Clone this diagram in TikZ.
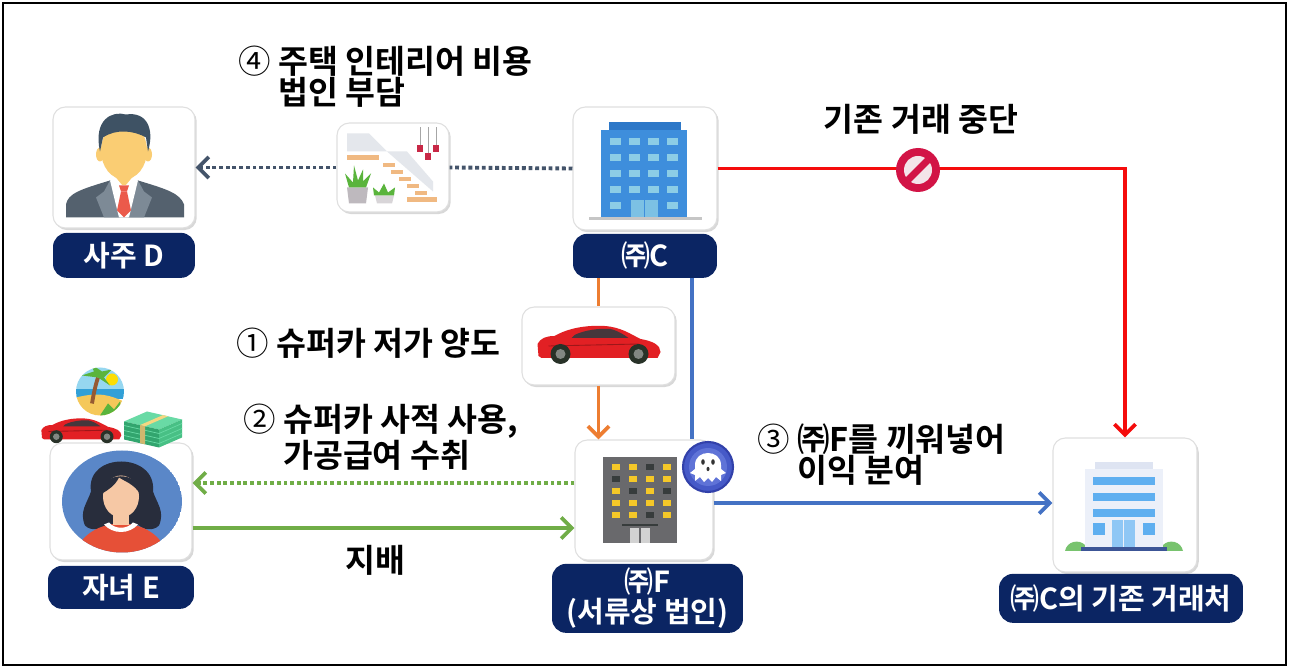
\documentclass[tikz,border=0pt]{standalone}
\usepackage{fontspec}
\newfontfamily\krfont{Noto Sans CJK KR}[BoldFont={Noto Sans CJK KR Bold}]
\usepackage{tikz}
\usetikzlibrary{positioning, arrows.meta, shadows}

\definecolor{navy}{RGB}{11,37,99}
\definecolor{edgered}{RGB}{245,12,12}
\definecolor{edgeorange}{RGB}{237,125,49}
\definecolor{edgeblue}{RGB}{68,114,196}
\definecolor{edgegreen}{RGB}{112,173,71}
\definecolor{edgeslate}{RGB}{68,84,106}
\definecolor{suitgray}{RGB}{84,97,110}
\definecolor{suitlight}{RGB}{125,138,150}
\definecolor{skin}{RGB}{250,205,115}
\definecolor{hairslate}{RGB}{62,82,100}
\definecolor{tiered}{RGB}{235,90,75}
\definecolor{stepwood}{RGB}{240,185,130}
\definecolor{potgray}{RGB}{190,185,190}
\definecolor{leafgreen}{RGB}{90,180,60}
\definecolor{lampred}{RGB}{200,40,70}
\definecolor{glassgray}{RGB}{228,231,236}
\definecolor{cblue}{RGB}{62,142,220}
\definecolor{cbluedark}{RGB}{45,120,200}
\definecolor{cwindow}{RGB}{140,205,230}
\definecolor{carred}{RGB}{226,32,36}
\definecolor{carglass}{RGB}{70,55,60}
\definecolor{tyre}{RGB}{40,50,40}
\definecolor{rim}{RGB}{130,135,130}
\definecolor{circleblue}{RGB}{90,135,200}
\definecolor{hairdark}{RGB}{40,45,60}
\definecolor{faceskin}{RGB}{246,200,165}
\definecolor{shirtred}{RGB}{230,80,55}
\definecolor{beachsky}{RGB}{150,215,240}
\definecolor{beachsea}{RGB}{50,160,215}
\definecolor{beachsand}{RGB}{245,200,90}
\definecolor{trunkbrown}{RGB}{150,90,50}
\definecolor{cashlight}{RGB}{105,218,165}
\definecolor{cashmid}{RGB}{72,192,133}
\definecolor{cashdark}{RGB}{50,165,110}
\definecolor{bandyellow}{RGB}{245,215,130}
\definecolor{fgray}{RGB}{105,105,108}
\definecolor{fwindow}{RGB}{245,200,40}
\definecolor{fdark}{RGB}{55,60,60}
\definecolor{ghostblue}{RGB}{70,90,200}
\definecolor{ghostring}{RGB}{50,65,170}
\definecolor{ghostinner}{RGB}{95,115,215}
\definecolor{clientbody}{RGB}{236,240,249}
\definecolor{clientcap}{RGB}{222,228,242}
\definecolor{clientglass}{RGB}{95,175,240}
\definecolor{clientbase}{RGB}{60,85,150}
\definecolor{bushgreen}{RGB}{120,195,110}
\definecolor{stopred}{RGB}{210,20,70}
\definecolor{stopinner}{RGB}{243,228,233}

\tikzstyle{icon2} = [rectangle, rounded corners=7pt, draw=gray!25, line width=0.6pt, fill=white, drop shadow={shadow xshift=1pt, shadow yshift=-1.2pt, opacity=0.3}]
\tikzstyle{tag2} = [rectangle, rounded corners=8pt, fill=navy, text=white, align=center, inner sep=0pt, font=\krfont\bfseries\fontsize{16.5}{17}\selectfont]
\tikzstyle{note2} = [align=left, inner sep=0pt, font=\krfont\bfseries\fontsize{18.5}{17.5}\selectfont]
\tikzstyle{arrow2} = [line width=2.2pt, -{Straight Barb[length=6pt, width=12pt]}]
\tikzstyle{dots2} = [line width=2.2pt, dash pattern=on 2.2pt off 1.6pt]

% red sports car, drawn around (0,0)
\newcommand{\supercar}{%
  \fill[carred] (-60,10) -- (-61,-2) .. controls (-58,-8) and (-52,-10) .. (-44,-10) .. controls (-30,-18) and (-12,-21) .. (6,-20) .. controls (22,-19) and (32,-12) .. (42,-7) .. controls (54,-5) and (62,-1) .. (62,6) -- (59,12) -- (-57,12) -- cycle;
  \fill[carglass] (-24,-11) .. controls (-14,-16) and (2,-18) .. (12,-17) .. controls (20,-15) and (26,-11) .. (30,-8) -- (-27,-8) -- cycle;
  \draw[carred!70!black, line width=0.5pt] (-50,0) -- (40,-2);
  \foreach \wx in {-38,40} {\fill[tyre] (\wx,8) circle (10); \fill[rim] (\wx,8) circle (5);}
}

\begin{document}
\begin{tikzpicture}[x=0.02cm, y=-0.02cm]

    \fill[white] (0,0) rectangle (1289,668);
    \useasboundingbox (0,0) rectangle (1289,668);
    \draw[line width=1.4pt] (3,3) rectangle (1286,665);

    % Place nodes
    \node (owner) [icon2, minimum width=2.84cm, minimum height=2.42cm] at (124,167.5) {};
    \node (ownerTag) [tag2, minimum width=2.84cm, minimum height=0.9cm, below=0.08cm of owner] {사주 D};
    \node (interior) [icon2, minimum width=2.24cm, minimum height=1.78cm] at (393,167.5) {};
    \node (corpC) [icon2, minimum width=2.88cm, minimum height=2.46cm] at (645,168.5) {};
    \node (corpCTag) [tag2, minimum width=2.88cm, minimum height=0.88cm, below=0.06cm of corpC] {㈜C};
    \node (car) [icon2, minimum width=3.06cm, minimum height=1.56cm] at (598.5,346) {};
    \node (child) [icon2, minimum width=2.84cm, minimum height=2.34cm] at (121,501.5) {};
    \node (childTag) [tag2, minimum width=2.92cm, minimum height=0.86cm, below=0.1cm of child] {자녀 E};
    \node (corpF) [icon2, minimum width=2.76cm, minimum height=2.4cm] at (644,500) {};
    \node (corpFTag) [tag2, minimum width=3.82cm, minimum height=1.38cm, below=0.06cm of corpF, xshift=0.07cm] {㈜F\\(서류상 법인)};
    \node (client) [icon2, minimum width=2.88cm, minimum height=2.68cm] at (1125,505) {};
    \node (clientTag) [tag2, minimum width=4.88cm, minimum height=0.98cm, below=0.02cm of client, xshift=-0.08cm] {㈜C의 기존 거래처};

    % heights of the horizontal edges
    \coordinate (useLvl) at (0,483);
    \coordinate (ruleLvl) at (0,528);
    \coordinate (tradeLvl) at (0,503);
    \coordinate (tap) at (692,0);

    % Draw edges
    \draw [dots2, edgeslate] (corpC.west) -- (interior.east);
    \draw [arrow2, dots2, edgeslate] (interior.west) -- (owner.east);
    \draw [arrow2, edgered] (corpC.east) -| (client.north);
    \draw [line width=2.2pt, edgeorange] (corpCTag.south -| car.north) -- (car.north);
    \draw [arrow2, edgeorange] (car.south) -- (corpF.north -| car.south);
    \draw [line width=2.2pt, edgeblue] (corpCTag.south -| tap) -- (corpF.north -| tap);
    \draw [arrow2, edgeblue] (corpF.east |- tradeLvl) -- (client.west |- tradeLvl);
    \draw [arrow2, dots2, edgegreen] (corpF.west |- useLvl) -- (child.east |- useLvl);
    \draw [arrow2, edgegreen] (child.east |- ruleLvl) -- (corpF.west |- ruleLvl);

    \node (stop) [circle, fill=stopred, minimum size=0.88cm, inner sep=0pt] at (918,170) {};
    \node (ghost) [circle, fill=ghostblue, draw=ghostring, line width=1.2pt, minimum size=1cm, inner sep=0pt] at (708,467) {};

    % Labels
    \node (noteInterior) [note2, anchor=west] at (238,77) {{\mdseries ④} 주택 인테리어 비용\\\hphantom{{\mdseries ④} }법인 부담};
    \node (noteStop) [note2] at (921,119) {기존 거래 중단};
    \node (noteCar) [note2, anchor=west] at (236,343) {{\mdseries ①} 슈퍼카 저가 양도};
    \node (noteUse) [note2, anchor=west] at (243,437) {{\mdseries ②} 슈퍼카 사적 사용,\\\hphantom{{\mdseries ②} }가공급여 수취};
    \node (noteTrade) [note2, anchor=west] at (757,455) {{\mdseries ③} ㈜F를 끼워넣어\\\hphantom{{\mdseries ③} }이익 분여};
    \node (noteRule) [note2] at (375,560) {지배};

    % owner D: man in a suit
    \begin{scope}[shift={(owner.center)}]
        \fill[suitgray] (-58,50) -- (-58,37) .. controls (-56,26) and (-44,22) .. (-14,13) -- (14,13) .. controls (44,22) and (56,26) .. (60,37) -- (60,50) -- cycle;
        \fill[suitlight] (-14,13) -- (-4,50) -- (-20,50) -- (-28,30) -- (-20,24) -- cycle;
        \fill[suitlight] (14,13) -- (4,50) -- (20,50) -- (28,30) -- (20,24) -- cycle;
        \fill[white] (-14,13) -- (14,13) -- (5,50) -- (-5,50) -- cycle;
        \fill[skin] (-10,0) rectangle (10,18);
        \fill[white] (-14,12) -- (-10,8) -- (0,20) -- (-6,28) -- cycle;
        \fill[white] (14,12) -- (10,8) -- (0,20) -- (6,28) -- cycle;
        \fill[tiered] (-5,18) -- (5,18) -- (3,24) -- (-3,24) -- cycle;
        \fill[tiered] (-3,24) -- (3,24) -- (7,43) -- (0,50) -- (-7,43) -- cycle;
        \fill[skin] (-24,-13) ellipse [x radius=4, y radius=7];
        \fill[skin] (24,-13) ellipse [x radius=4, y radius=7];
        \fill[skin] (0,-17) ellipse [x radius=23, y radius=29];
        \fill[hairslate] (-24,-16) .. controls (-31,-48) and (-12,-57) .. (2,-53) .. controls (22,-56) and (31,-40) .. (24,-16) -- (22,-30) .. controls (10,-37) and (-8,-39) .. (-21,-30) -- cycle;
    \end{scope}

    % interior: stairs, plants and lamps
    \begin{scope}[shift={(interior.center)}]
        \fill[glassgray] (-46,-34) -- (-24,-34) -- (-6,-16) -- (-46,-16) -- cycle;
        \fill[glassgray] (-6,-16) -- (14,-16) -- (40,14) -- (40,24) -- cycle;
        \fill[stepwood] (-46,-12) rectangle (-14,-7);
        \foreach \s in {0,...,4} {\fill[stepwood] (-10+8*\s,-4+7*\s) rectangle ++(12,4);}
        \fill[stepwood] (14,30) rectangle (44,35);
        \fill[potgray] (-46,20) -- (-25,20) -- (-27,36) -- (-44,36) -- cycle;
        \fill[leafgreen] (-44,20) -- (-48,6) -- (-40,15) -- (-39,-2) -- (-35,13) -- (-30,2) -- (-30,14) -- (-22,6) -- (-27,20) -- cycle;
        \fill[potgray!60] (-18,28) -- (1,28) -- (-1,36) -- (-16,36) -- cycle;
        \fill[leafgreen] (-19,28) -- (-20,20) -- (-14,25) -- (-9,16) -- (-5,25) -- (2,20) -- (1,28) -- cycle;
        \foreach \lx/\ly in {27/-22, 35/-14, 43/-22} {
            \draw[gray!70, line width=0.4pt] (\lx,-40) -- (\lx,\ly);
            \fill[lampred] (\lx-3,\ly) rectangle (\lx+3,\ly+7);
        }
    \end{scope}

    % corporation C: blue office block
    \begin{scope}[shift={(corpC.center)}]
        \fill[cbluedark] (-36,-46) rectangle (36,-38);
        \fill[cblue] (-44,-38) rectangle (42,49);
        \foreach \row in {0,...,3}
            \foreach \col in {0,...,3}
                \fill[cwindow] (-35+\col*19,-30+\row*16) rectangle ++(11,7);
        \fill[cwindow] (-35,34) rectangle ++(11,7);
        \fill[cwindow] (22,34) rectangle ++(11,7);
        \fill[cwindow!80!cblue] (-14,32) rectangle (13,49);
        \draw[cblue, line width=0.4pt] (-0.5,32) -- (-0.5,49);
        \fill[gray!45] (-56,49) rectangle (57,52);
    \end{scope}

    \begin{scope}[shift={(car.center)}]
        \supercar
    \end{scope}

    % child E with beach, car and cash
    \begin{scope}[shift={(child.center)}]
        \begin{scope}
            \clip (1,0) ellipse [x radius=60, y radius=51];
            \fill[circleblue] (1,0) ellipse [x radius=60, y radius=51];
            \fill[hairdark] (-30,-10) .. controls (-36,-50) and (36,-50) .. (32,-10) .. controls (36,2) and (44,10) .. (38,24) .. controls (32,30) and (22,28) .. (18,24) -- (-16,24) .. controls (-20,28) and (-30,30) .. (-36,24) .. controls (-42,10) and (-34,2) .. (-30,-10) -- cycle;
            \fill[shirtred] (0,58) ellipse [x radius=46, y radius=36];
            \fill[faceskin] (-8,6) rectangle (8,24);
            \fill[white] (-17,23) .. controls (-8,33) and (8,33) .. (17,23) -- (12,21) .. controls (6,28) and (-6,28) .. (-12,21) -- cycle;
            \fill[faceskin] (0,-5) ellipse [x radius=18, y radius=21];
            \fill[hairdark] (-19,-8) .. controls (-20,-30) and (18,-32) .. (19,-8) .. controls (12,-18) and (4,-20) .. (-2,-24) .. controls (-6,-16) and (-12,-12) .. (-19,-8) -- cycle;
        \end{scope}
        \begin{scope}[shift={(-21,-110)}]
            \clip (0,0) circle (24);
            \fill[beachsky] (-24,-24) rectangle (24,2);
            \fill[beachsea] (-24,-2) rectangle (24,8);
            \fill[beachsand] (-24,6) .. controls (0,0) and (10,4) .. (24,10) -- (24,24) -- (-24,24) -- cycle;
            \fill[leafgreen] (0,24) -- (8,12) -- (14,18) -- (20,10) -- (24,24) -- cycle;
            \fill[yellow!80!orange] (12,-12) circle (6);
            \draw[trunkbrown, line width=2.2pt] (-8,12) .. controls (-6,0) and (-4,-8) .. (-2,-14);
            \fill[leafgreen] (-2,-14) -- (-18,-16) -- (-6,-20) -- (-10,-28) -- (2,-20) -- (12,-22) -- (4,-14) -- (10,-6) -- cycle;
        \end{scope}
        \begin{scope}[shift={(-40,-70)}, scale=0.65]
            \supercar
        \end{scope}
        \begin{scope}[shift={(32,-72)}]
            \fill[cashlight] (-29,-8) -- (-6,-18) -- (29,-10) -- (6,0) -- cycle;
            \fill[cashdark] (-29,-8) -- (6,0) -- (6,18) -- (-29,10) -- cycle;
            \fill[cashmid] (6,0) -- (29,-10) -- (29,8) -- (6,18) -- cycle;
            \foreach \dy in {4,9,14} \draw[cashlight, line width=0.4pt] (-29,-8+\dy) -- (6,\dy) -- (29,-10+\dy);
            \fill[bandyellow] (-13,-4.4) -- (10,-14.4) -- (15,-13.2) -- (-8,-3.2) -- cycle;
            \fill[bandyellow!85!black] (-13,-4.4) -- (-8,-3.2) -- (-8,14.8) -- (-13,13.6) -- cycle;
        \end{scope}
    \end{scope}

    % corporation F: grey block with lit windows
    \begin{scope}[shift={(corpF.center)}]
        \fill[fgray] (-41,-43) rectangle (33,43);
        \foreach \row in {0,...,4}
            \foreach \col in {0,...,3}
                \fill[fwindow] (-32+\col*17,-36+\row*12) rectangle ++(8,6);
        \foreach \col/\row in {2/0, 0/1, 1/2, 3/2, 2/4}
            \fill[fdark] (-32+\col*17,-36+\row*12) rectangle ++(8,6);
        \draw[fdark, line width=0.6pt] (-22,25) -- (14,25);
        \fill[gray!35] (-14,28) rectangle (6,43);
        \draw[fgray, line width=0.6pt] (-4,28) -- (-4,43);
    \end{scope}

    % ghost badge
    \begin{scope}[shift={(ghost.center)}]
        \fill[ghostinner] (0,0) circle (19);
        \fill[white] (-13,14) -- (-13,-2) .. controls (-13,-18) and (13,-18) .. (13,-2) -- (13,14) -- (8,10) -- (4,15) -- (0,11) -- (-4,15) -- (-8,10) -- cycle;
        \fill[white] (-13,2) -- (-18,6) -- (-13,8) -- cycle;
        \fill[white] (13,2) -- (18,6) -- (13,8) -- cycle;
        \fill[black!80] (-5,-5) ellipse [x radius=1.8, y radius=2.8];
        \fill[black!80] (5,-5) ellipse [x radius=1.8, y radius=2.8];
        \fill[black!80] (0,2) ellipse [x radius=1.5, y radius=2.2];
    \end{scope}

    % former client of C
    \begin{scope}[shift={(client.center)}]
        \fill[bushgreen] (-60,46) .. controls (-58,36) and (-46,34) .. (-40,40) -- (-40,46) -- cycle;
        \fill[bushgreen] (58,46) .. controls (56,36) and (44,34) .. (38,40) -- (38,46) -- cycle;
        \fill[clientcap] (-30,-43) rectangle (28,-36);
        \fill[clientbody] (-40,-36) rectangle (38,43);
        \foreach \ry in {-28,-12,4} \fill[clientglass] (-32,\ry) rectangle (30,\ry+8);
        \fill[clientglass] (-32,18) rectangle (-20,30);
        \fill[clientglass] (18,18) rectangle (30,30);
        \fill[clientglass!70] (-13,15) rectangle (10,43);
        \draw[clientbody, line width=0.5pt] (-1.5,15) -- (-1.5,43);
        \fill[clientbase] (-44,42) rectangle (42,46);
    \end{scope}

    % no-entry sign on the cut-off trade line
    \begin{scope}[shift={(stop.center)}]
        \fill[stopinner] (0,0) circle (14);
        \begin{scope}
            \clip (0,0) circle (14.5);
            \draw[stopred, line width=4pt] (-14,14) -- (14,-14);
        \end{scope}
    \end{scope}

\end{tikzpicture}
\end{document}
